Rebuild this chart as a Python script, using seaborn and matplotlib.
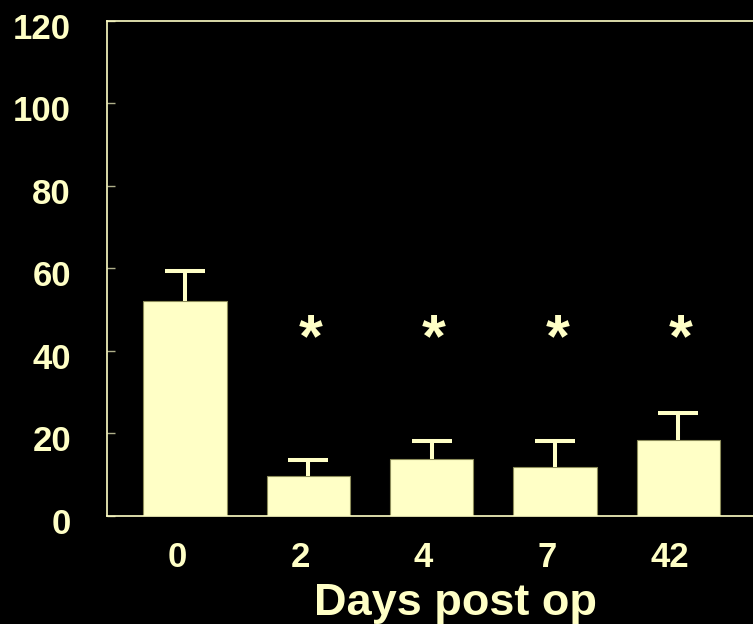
#!/usr/bin/env python3

import seaborn as sns
import matplotlib.pyplot as plt
import matplotlib.transforms as mtrans
import pandas as pd
import numpy as np

# data
days = ['0', '2', '4', '7', '42']
means = [52.0, 9.8, 13.9, 11.9, 18.5]
sems = [7.3, 3.8, 4.2, 6.3, 6.5]
signif = ['', '*', '*', '*', '*']
yticks = [0, 20, 40, 60, 80, 100, 120]
xlab = 'Days post op'

bg = 'black'
fg = '#FFFFC6'
edge = '#8C8C5A'

sns.set_theme(style='ticks')
plt.rcParams['font.family'] = ['Liberation Sans', 'DejaVu Sans']
plt.rcParams['font.weight'] = 'bold'

fig = plt.figure(figsize=(7.53, 6.24), dpi=100, facecolor=bg)
ax = fig.add_axes([107 / 753, 108 / 624, 1 - 107 / 753, (516 - 20.7) / 624])
ax.set_facecolor(bg)

dat = pd.DataFrame({'day': days, 'value': means})
sns.barplot(data=dat, x='day', y='value', order=days, color=fg,
            saturation=1, width=0.675, edgecolor=edge, linewidth=0.8, ax=ax)

# upper error bars only
xpos = np.arange(len(days))
eb = ax.errorbar(xpos, means, yerr=[np.zeros(len(sems)), sems], fmt='none',
                 ecolor=fg, elinewidth=2.9, capsize=14.4, capthick=2.9,
                 zorder=3)
eb[1][0].set_visible(False)

for x, s in zip(xpos, signif):
    if s:
        ax.text(x + 0.02, 42.5, s, ha='center', va='center', color=fg,
                fontsize=44, fontweight='bold')

ax.set_ylim(0, 120)
ax.set_xlim(-0.632, 4.606)
ax.set_yticks(yticks)
ax.set_yticklabels([str(t) for t in yticks])
ax.set_ylabel('')

for side in ['left', 'bottom', 'top']:
    ax.spines[side].set_color(fg)
    ax.spines[side].set_linewidth(1.2)
ax.spines['right'].set_visible(False)

ax.tick_params(axis='y', direction='in', length=6, width=1, color='#B0B08A',
               labelsize=25, labelcolor=fg, pad=26)
ax.tick_params(axis='x', length=0, labelsize=25, labelcolor=fg, pad=18)

# labels sit slightly off their ticks in the reference
dy = mtrans.ScaledTranslation(0, -5 / 100, fig.dpi_scale_trans)
for lab in ax.get_yticklabels():
    lab.set_transform(lab.get_transform() + dy)
    lab.set_fontweight('bold')
dx = mtrans.ScaledTranslation(-8 / 100, 0, fig.dpi_scale_trans)
for lab in ax.get_xticklabels():
    lab.set_transform(lab.get_transform() + dx)
    lab.set_fontweight('bold')

ax.set_xlabel(xlab, fontsize=32.5, fontweight='bold', color=fg)
ax.xaxis.set_label_coords(0.54, -0.135)

plt.savefig('out.png', dpi=100, facecolor=bg)
